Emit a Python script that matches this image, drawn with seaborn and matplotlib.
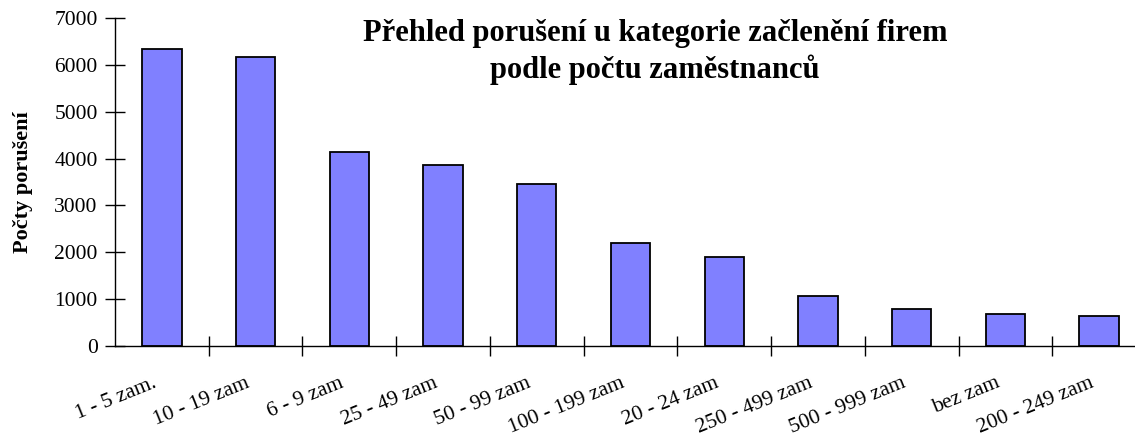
import numpy as np
import pandas as pd
import matplotlib
matplotlib.use("Agg")
import matplotlib.pyplot as plt
import matplotlib.transforms as mtransforms
from matplotlib.ticker import FixedLocator
import seaborn as sns

categories = ["1 - 5 zam.", "10 - 19 zam", "6 - 9 zam", "25 - 49 zam", "50 - 99 zam",
              "100 - 199 zam", "20 - 24 zam", "250 - 499 zam", "500 - 999 zam",
              "bez zam", "200 - 249 zam"]
values = [6340, 6160, 4130, 3860, 3450, 2190, 1890, 1060, 790, 680, 640]
yticks = [0, 1000, 2000, 3000, 4000, 5000, 6000, 7000]

title_text = "Přehled porušení u kategorie začlenění firem\npodle počtu zaměstnanců"
ylabel_text = "Počty porušení"

sns.set_theme(style="white")
plt.rcParams["font.family"] = ["Liberation Serif", "DejaVu Serif"]
plt.rcParams["text.color"] = "black"
plt.rcParams["axes.labelcolor"] = "black"
plt.rcParams["xtick.color"] = "black"
plt.rcParams["ytick.color"] = "black"

dpi = 100
fig = plt.figure(figsize=(1135 / dpi, 441 / dpi), dpi=dpi)
ax = fig.add_axes([115 / 1135, 95 / 441, 1031 / 1135, 328 / 441])

df = pd.DataFrame({"cat": categories, "val": values})
sns.barplot(data=df, x="cat", y="val", order=categories, color="#8080FF",
            saturation=1, width=0.42, edgecolor="black", linewidth=1.3, ax=ax)

ax.set_xlim(-0.5, len(categories) - 0.5)
ax.set_ylim(0, 7000)
ax.set_yticks(yticks)
ax.set_yticklabels([str(v) for v in yticks], fontsize=15.5)
ax.tick_params(axis="y", direction="inout", length=15, width=1, color="black",
               labelcolor="black", pad=5, left=True)

# category labels at centers (no tick), tick marks at boundaries
ax.set_xticks(range(len(categories)))
ax.set_xticklabels(categories, fontsize=15.5, rotation=22, ha="right", va="top",
                   rotation_mode="anchor")
ax.tick_params(axis="x", which="major", length=0, pad=20, labelcolor="black")
ax.xaxis.set_minor_locator(FixedLocator(np.arange(0.5, len(categories), 1.0)))
ax.tick_params(axis="x", which="minor", direction="inout", length=15, width=1,
               color="black", bottom=True)
offset = mtransforms.ScaledTranslation(-10 / dpi, 0, fig.dpi_scale_trans)
for lab in ax.get_xticklabels():
    lab.set_transform(lab.get_transform() + offset)

for s in ["top", "right"]:
    ax.spines[s].set_visible(False)
for s in ["left", "bottom"]:
    ax.spines[s].set_color("black")
    ax.spines[s].set_linewidth(1.0)

ax.set_xlabel("")
ax.set_ylabel(ylabel_text, fontsize=16, fontweight="bold", color="black")
ax.yaxis.set_label_coords(-82 / 1031, 0.5)

fig.text(655 / 1135, 1 - 52 / 441, title_text, ha="center", va="center",
         fontsize=22, fontweight="bold", linespacing=1.25, color="black")

fig.savefig("out.png", dpi=dpi, facecolor="white")
